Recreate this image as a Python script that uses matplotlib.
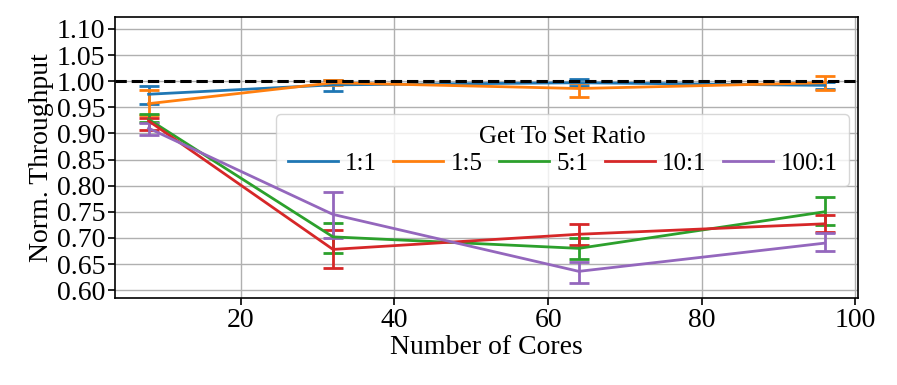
import matplotlib
matplotlib.use("Agg")
import matplotlib.pyplot as plt
from matplotlib.lines import Line2D

plt.rcParams['font.family'] = ['Liberation Serif', 'DejaVu Serif']
plt.rcParams['font.size'] = 20

cores = [8, 32, 64, 96]
labels = ["1:1", "1:5", "5:1", "10:1", "100:1"]
colors = ["tab:blue", "tab:orange", "tab:green", "tab:red", "tab:purple"]

# normalized throughput per ratio, with lower / upper error
tp_11 = [0.975, 0.993, 0.997, 0.992]
lo_11 = [0.956, 0.981, 0.990, 0.986]
hi_11 = [0.990, 1.002, 1.004, 0.998]

tp_15 = [0.957, 0.997, 0.986, 0.997]
lo_15 = [0.935, 0.993, 0.969, 0.984]
hi_15 = [0.983, 1.002, 0.996, 1.010]

tp_51 = [0.927, 0.702, 0.680, 0.750]
lo_51 = [0.922, 0.671, 0.660, 0.724]
hi_51 = [0.937, 0.729, 0.700, 0.778]

tp_101 = [0.924, 0.678, 0.707, 0.727]
lo_101 = [0.906, 0.643, 0.686, 0.711]
hi_101 = [0.930, 0.715, 0.727, 0.743]

tp_1001 = [0.910, 0.745, 0.636, 0.690]
lo_1001 = [0.897, 0.699, 0.614, 0.674]
hi_1001 = [0.920, 0.788, 0.654, 0.710]

series = [(tp_11, lo_11, hi_11), (tp_15, lo_15, hi_15), (tp_51, lo_51, hi_51),
          (tp_101, lo_101, hi_101), (tp_1001, lo_1001, hi_1001)]

fig, ax = plt.subplots(figsize=(8.97, 3.85), dpi=100)
fig.subplots_adjust(left=0.128, right=0.957, top=0.956, bottom=0.226)

handles = []
for (tp, lo, hi), lab, col in zip(series, labels, colors):
    yerr = [[t - l for t, l in zip(tp, lo)], [h - t for t, h in zip(tp, hi)]]
    ax.errorbar(cores, tp, yerr=yerr, color=col, lw=2,
                capsize=7, capthick=2, elinewidth=2)
    handles.append(Line2D([], [], color=col, lw=2, label=lab))

ax.axhline(1.0, color="black", ls="--", lw=2.2, zorder=5)

ax.set_xlim(3.6, 100.4)
ax.set_ylim(0.585, 1.123)
ax.set_yticks([0.60 + 0.05 * i for i in range(11)])
ax.yaxis.set_major_formatter(matplotlib.ticker.FormatStrFormatter("%.2f"))
ax.set_xticks([20, 40, 60, 80, 100])
ax.grid(True, color="#b0b0b0", lw=1)
ax.set_axisbelow(True)
ax.tick_params(labelsize=20, length=5, width=1.2, pad=2)
for s in ax.spines.values():
    s.set_linewidth(1.2)

ax.set_xlabel("Number of Cores", fontsize=20, labelpad=2)
ax.set_ylabel("Norm. Throughput", fontsize=20, labelpad=2)

ax.legend(handles=handles, title="Get To Set Ratio", ncol=5, loc="center right",
          bbox_to_anchor=(0.987, 0.525), borderaxespad=0,
          fontsize=18, title_fontsize=18,
          handlelength=2.0, columnspacing=0.65, handletextpad=0.3,
          borderpad=0.45, labelspacing=0.2)

fig.savefig("out.png", dpi=100)
